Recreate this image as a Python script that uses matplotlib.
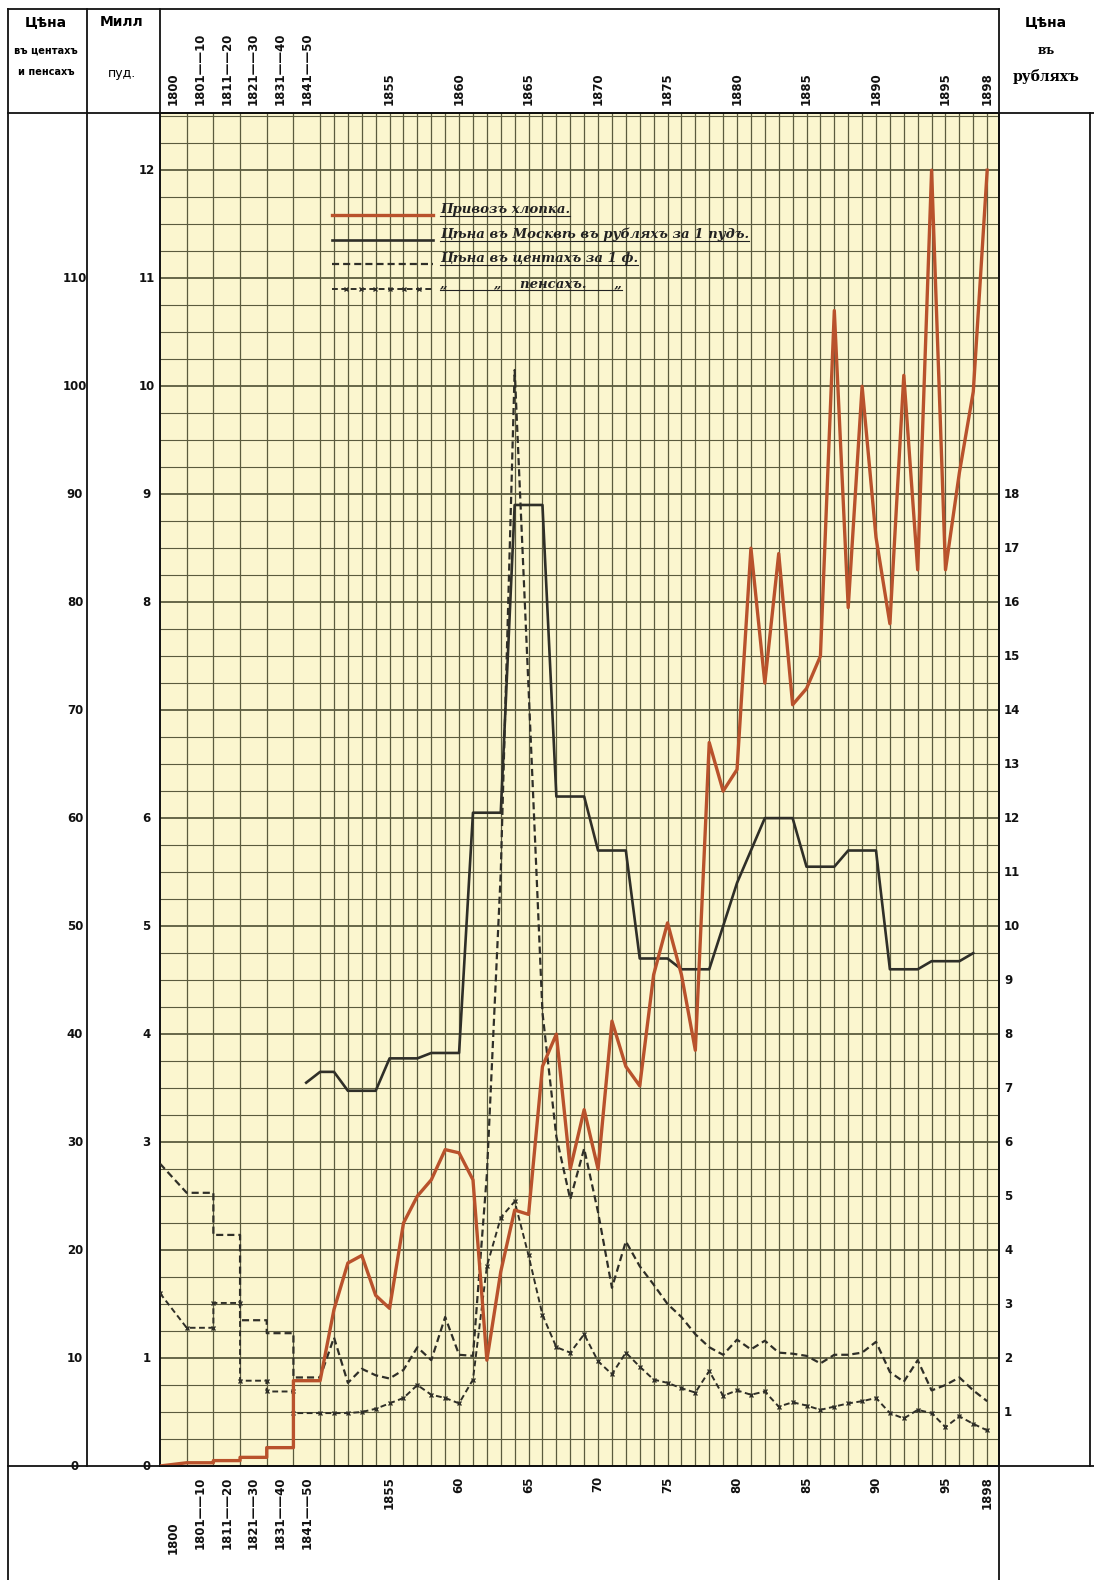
import matplotlib
matplotlib.use("Agg")
import matplotlib.pyplot as plt
import numpy as np
from matplotlib.lines import Line2D

# values
early_periods = ["1800", "1801——10", "1811——20", "1821——30", "1831——40", "1841——50"]
import_early = [0.0, 0.03, 0.05, 0.08, 0.17, 0.79]   # mill. pud
cents_early = [28.0, 25.3, 21.4, 13.5, 12.3, 8.2]    # cents per lb
pence_early = [16.0, 12.8, 15.1, 7.9, 6.9, 4.9]      # pence per lb

years = list(range(1851, 1899))
import_annual = [1.45, 1.88, 1.95, 1.58, 1.46, 2.25, 2.5, 2.65, 2.93, 2.9,
                 2.65, 0.98, 1.8, 2.37, 2.33, 3.7, 4.0, 2.75, 3.3, 2.75,
                 4.12, 3.7, 3.52, 4.55, 5.03, 4.55, 3.85, 6.7, 6.25, 6.45,
                 8.5, 7.25, 8.45, 7.05, 7.2, 7.5, 10.7, 7.95, 10.0, 8.6,
                 7.8, 10.1, 8.3, 12.0, 8.3, 9.2, 9.95, 12.0]
cents_annual = [11.9, 7.7, 9.0, 8.4, 8.1, 8.9, 11.0, 9.8, 13.8, 10.3,
                10.2, 27.0, 55.0, 101.5, 72.0, 42.0, 30.5, 24.7, 29.4, 23.5,
                16.5, 20.8, 18.5, 16.8, 15.0, 13.8, 12.2, 11.0, 10.3, 11.7,
                10.8, 11.6, 10.5, 10.4, 10.2, 9.5, 10.3, 10.3, 10.5, 11.5,
                8.7, 7.8, 9.8, 7.0, 7.5, 8.2, 7.0, 6.0]
pence_annual = [4.9, 4.9, 5.0, 5.3, 5.8, 6.3, 7.5, 6.6, 6.3, 5.8,
                8.0, 18.5, 23.0, 24.5, 19.5, 14.0, 11.0, 10.5, 12.2, 9.7,
                8.5, 10.5, 9.2, 8.0, 7.7, 7.2, 6.8, 8.8, 6.5, 7.0,
                6.6, 6.9, 5.5, 5.9, 5.6, 5.2, 5.5, 5.8, 6.0, 6.3,
                4.9, 4.4, 5.2, 4.9, 3.6, 4.6, 3.9, 3.3]

moscow_years = list(range(1849, 1898))
moscow_rub = [7.1, 7.3, 7.3, 6.95, 6.95, 6.95, 7.55, 7.55, 7.55, 7.65,
              7.65, 7.65, 12.1, 12.1, 12.1, 17.8, 17.8, 17.8, 12.4, 12.4,
              12.4, 11.4, 11.4, 11.4, 9.4, 9.4, 9.4, 9.2, 9.2, 9.2,
              10.0, 10.8, 11.4, 12.0, 12.0, 12.0, 11.1, 11.1, 11.1, 11.4,
              11.4, 11.4, 9.2, 9.2, 9.2, 9.35, 9.35, 9.35, 9.5]

top_year_labels = ["1855", "1860", "1865", "1870", "1875", "1880", "1885", "1890", "1895", "1898"]
bottom_year_labels = ["1855", "60", "65", "70", "75", "80", "85", "90", "95", "1898"]
label_years = [1855, 1860, 1865, 1870, 1875, 1880, 1885, 1890, 1895, 1898]
cents_ticks = list(range(0, 111, 10))
mill_ticks = [0, 1, 3, 4, 5, 6, 8, 9, 10, 11, 12]
rub_ticks = list(range(1, 19))

legend_labels = ["Привозъ хлопка.",
                 "Цѣна въ Москвѣ въ рубляхъ за 1 пудъ.",
                 "Цѣна въ центахъ за 1 ф.",
                 "„          „    пенсахъ.      „"]

# layout
W, H = 1094, 1580
DEC_W = 1.92          # one decade slot, in units of annual steps
X_LEFT = -len(early_periods) * DEC_W
X_RIGHT = 48.85
Y_TOP = 12.53

RED = "#b9522c"
INK = "#2f2f28"
GRID = "#5b5b3e"
PAPER = "#fbf6cf"


def fx(px):
    return px / W


def fy(py):
    return 1 - py / H


def year_x(y):
    return y - 1850


def series_xy(early, annual):
    xs = [X_LEFT]
    ys = [early[0]]
    for i in range(1, len(early)):
        a = X_LEFT + i * DEC_W
        xs += [a, a + DEC_W]
        ys += [early[i], early[i]]
    xs += [year_x(y) for y in years]
    ys += list(annual)
    return np.array(xs), np.array(ys)


plt.rcParams["font.family"] = ["DejaVu Sans"]
fig = plt.figure(figsize=(W / 100, H / 100), dpi=100)
fig.patch.set_facecolor("white")
ax = fig.add_axes([fx(160), fy(1466), fx(999) - fx(160), fy(113) - fy(1466)])
ax.set_facecolor(PAPER)
ax.set_xlim(X_LEFT, X_RIGHT)
ax.set_ylim(0, Y_TOP)

# grid
vlines = [X_LEFT + i * DEC_W for i in range(1, len(early_periods) + 1)]
vlines += [year_x(y) for y in years]
for u in vlines:
    ax.axvline(u, color=GRID, lw=0.9, zorder=1)
for v in np.arange(0.25, Y_TOP, 0.25):
    major = abs(v - round(v)) < 1e-6
    ax.axhline(v, color=GRID, lw=1.3 if major else 0.8, zorder=1)

# series
CENT_DASH = (3.2, 1.8)
PENCE_DASH = (3.0, 1.8)
x, y = series_xy(cents_early, cents_annual)
ax.plot(x, y / 10, color=INK, lw=1.6, dashes=CENT_DASH, zorder=3)
x, y = series_xy(pence_early, pence_annual)
ax.plot(x, y / 10, color=INK, lw=1.4, dashes=PENCE_DASH, marker="x", ms=3.2, mew=1.0, zorder=3)
ax.plot([year_x(y) for y in moscow_years], np.array(moscow_rub) / 2, color=INK, lw=1.9, zorder=4)
x, y = series_xy(import_early, import_annual)
ax.plot(x, y, color=RED, lw=2.4, zorder=5)

ax.set_xticks([])
ax.set_yticks([])
for s in ax.spines.values():
    s.set_color("#111111")
    s.set_linewidth(1.4)

num_font = dict(fontweight="bold", fontsize=8.5, color="#111111")

# left and right value labels
ytr = ax.get_yaxis_transform()
for c in cents_ticks:
    ax.text(-0.1013, c / 10, str(c), transform=ytr, ha="center", va="center", **num_font)
for m in mill_ticks:
    ax.text(-0.016, m, str(m), transform=ytr, ha="center", va="center", **num_font)
for r in rub_ticks:
    ax.text(1.006, r / 2, str(r), transform=ytr, ha="left", va="center", **num_font)

# period labels above and below
xtr = ax.get_xaxis_transform()
slot_centers = [X_LEFT + (i + 0.5) * DEC_W for i in range(len(early_periods))]
for cx, lab in zip(slot_centers, early_periods):
    ax.text(cx, 1.006, lab, transform=xtr, rotation=90, ha="center", va="bottom", **num_font)
    below = -0.041 if lab == "1800" else -0.0075
    ax.text(cx, below, lab, transform=xtr, rotation=90, ha="center", va="top", **num_font)
for yr, t_lab, b_lab in zip(label_years, top_year_labels, bottom_year_labels):
    ax.text(year_x(yr), 1.006, t_lab, transform=xtr, rotation=90, ha="center", va="bottom", **num_font)
    ax.text(year_x(yr), -0.0075, b_lab, transform=xtr, rotation=90, ha="center", va="top", **num_font)

# table frame
frame = [((8, 9), (8, 1580)), ((8, 9), (999, 9)), ((87, 9), (87, 1466)),
         ((160, 9), (160, 113)), ((999, 9), (999, 1580)),
         ((8, 113), (1094, 113)), ((8, 1466), (1094, 1466)),
         ((1090, 113), (1090, 1466))]
for (x0, y0), (x1, y1) in frame:
    fig.add_artist(Line2D([fx(x0), fx(x1)], [fy(y0), fy(y1)], color="#111111", lw=1.3))

# header texts
fig.text(fx(46), fy(22), "Цѣна", ha="center", va="center", fontsize=10, fontweight="bold")
fig.text(fx(46), fy(51), "въ центахъ", ha="center", va="center", fontsize=7, fontweight="bold")
fig.text(fx(46), fy(72), "и пенсахъ", ha="center", va="center", fontsize=7, fontweight="bold")
fig.text(fx(122), fy(22), "Милл", ha="center", va="center", fontsize=10, fontweight="bold")
fig.text(fx(122), fy(73), "пуд.", ha="center", va="center", fontsize=9)
fig.text(fx(1046), fy(22), "Цѣна", ha="center", va="center", fontsize=10, fontweight="bold")
fig.text(fx(1046), fy(50), "въ", ha="center", va="center", fontsize=8.5, fontweight="bold",
         family="DejaVu Serif")
fig.text(fx(1046), fy(76), "рубляхъ", ha="center", va="center", fontsize=10, fontweight="bold",
         family="DejaVu Serif")

# legend drawn in place, like the original
rows = [215, 240, 264, 289]
styles = [dict(color=RED, lw=2.4),
          dict(color=INK, lw=1.9),
          dict(color=INK, lw=1.6, dashes=CENT_DASH),
          dict(color=INK, lw=1.4, dashes=PENCE_DASH, marker="x", ms=3.2, mew=1.0,
               markevery=[1, 2, 3, 4, 5, 6])]
legend_texts = []
for py, lab, st in zip(rows, legend_labels, styles):
    xs = np.linspace(fx(332), fx(433), 8)
    fig.add_artist(Line2D(xs, [fy(py)] * len(xs), **st))
    t = fig.text(fx(440), fy(py - 2), lab, ha="left", va="baseline", fontsize=9.5,
                 fontweight="bold", style="italic", family="DejaVu Serif", color="#222222")
    legend_texts.append(t)

renderer = fig.canvas.get_renderer()
for t, py in zip(legend_texts, rows):
    bb = t.get_window_extent(renderer)
    fig.add_artist(Line2D([bb.x0 / W, bb.x1 / W], [fy(py + 1)] * 2, color="#222222", lw=0.8))

fig.savefig("out.png", dpi=100)
